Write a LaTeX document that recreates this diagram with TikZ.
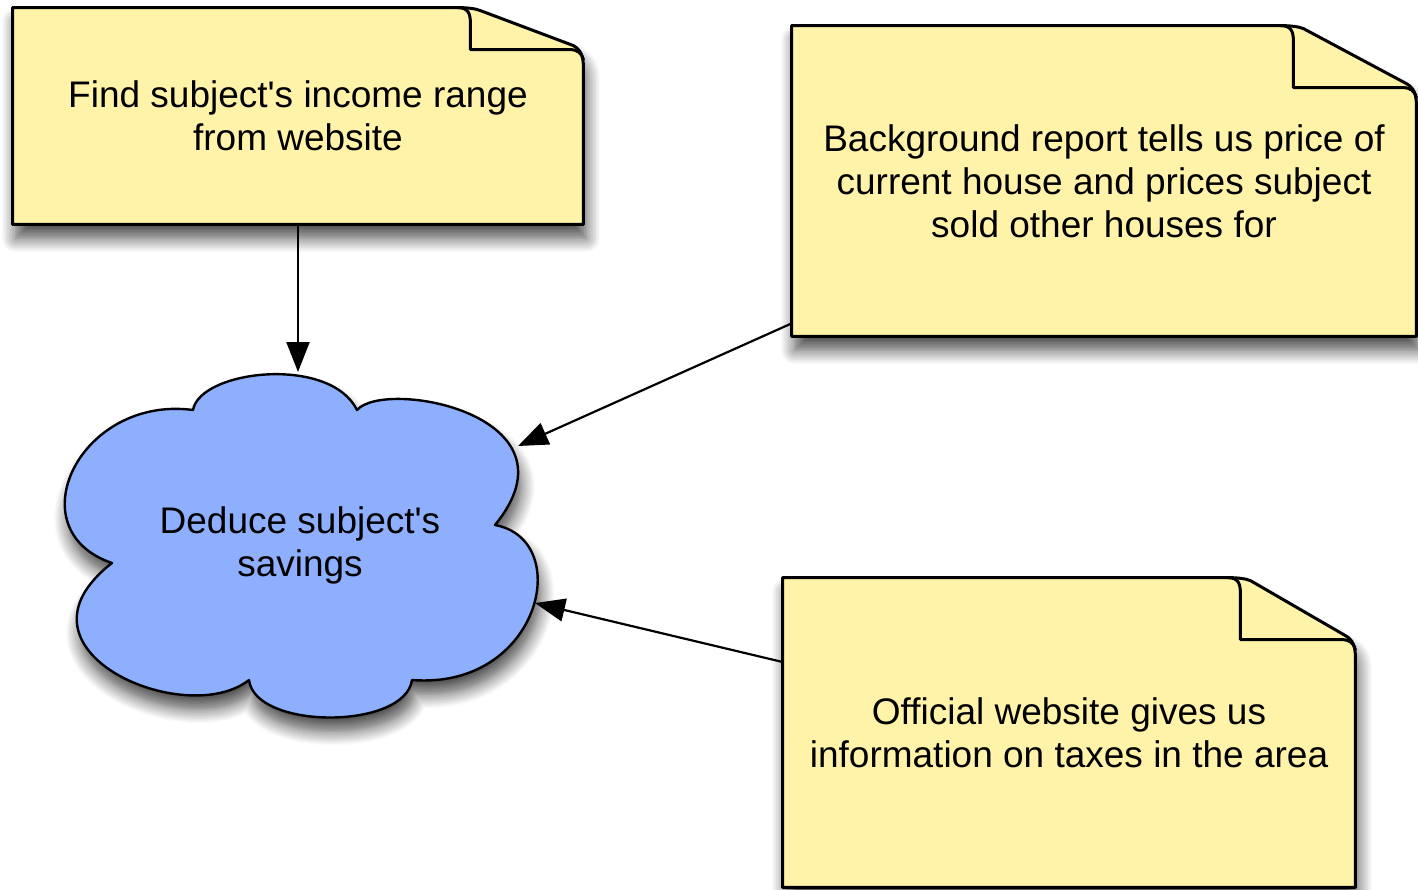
\documentclass[tikz,border=0pt]{standalone}
\usepackage{fontspec}
\setmainfont{Liberation Sans}
\usetikzlibrary{shadows.blur,calc,arrows.meta,backgrounds}
\definecolor{notefill}{RGB}{255,243,170}
\definecolor{cloudfill}{RGB}{142,174,254}
\tikzset{
 softshadow/.style={blur shadow={shadow xshift=1.5pt, shadow yshift=-7pt, shadow blur radius=7pt, shadow blur steps=10, shadow opacity=70}},
 notebody/.style={fill=notefill, draw=black, line width=1.5pt, line join=round, softshadow},
 notefold/.style={draw=black, line width=1.5pt, line join=round, line cap=round},
 cloudbody/.style={fill=cloudfill, draw=black, line width=1.2pt, line join=round, softshadow},
 notetext/.style={align=center, font=\fontsize{18.5}{21.5}\selectfont, inner sep=0pt},
 arr/.style={line width=1.1pt, -{Triangle[length=15pt,width=11.5pt]}},
}
\newcommand\notedraw[3]{%
 \path[notebody] (#1.north west) -- ($(#1.north east)+(-#2-13,0)$)
   .. controls ($(#1.north east)+(-#2-3,0)$) and ($(#1.north east)+(-#2+5,1)$) .. ($(#1.north east)+(-#2+10,3)$)
   -- ($(#1.north east)+(-10,#3-4)$)
   .. controls ($(#1.north east)+(-3,#3)$) and ($(#1.north east)+(0,#3+6)$) .. ($(#1.north east)+(0,#3+18)$)
   -- (#1.south east) -- (#1.south west) -- cycle;
 \draw[notefold] ($(#1.north east)+(-#2-13,0)$)
   .. controls ($(#1.north east)+(-#2-2,0)$) and ($(#1.north east)+(-#2,6)$) .. ($(#1.north east)+(-#2,16)$)
   -- ($(#1.north east)+(-#2,#3)$) -- ($(#1.north east)+(-14,#3)$)
   .. controls ($(#1.north east)+(-6,#3)$) and ($(#1.north east)+(-2,#3+3)$) .. ($(#1.north east)+(0,#3+10)$);
}
\begin{document}
\begin{tikzpicture}[x=0.5pt,y=-0.5pt]
\useasboundingbox (0,0) rectangle (1418,889);
\node[notetext, minimum width=285pt, minimum height=108pt] (n1) at (298,116)
  {Find subject\textquotesingle s income range\\from website};
\node[notetext, minimum width=312pt, minimum height=155pt] (n2) at (1104,181)
  {Background report tells us price of\\current house and prices subject\\sold other houses for};
\node[notetext, minimum width=286pt, minimum height=154.5pt] (n3) at (1069,732.5)
  {Official website gives us\\information on taxes in the area};
\node[notetext] (cloud) at (300,545) {Deduce subject\textquotesingle s\\savings};
\begin{scope}[on background layer]
 \notedraw{n1}{113}{42}
 \notedraw{n2}{123}{62}
 \notedraw{n3}{115}{62}
 \path[cloudbody] (193,410) .. controls (200,370) and (330,355) .. (357,410)
   .. controls (385,378) and (585,415) .. (495,525)
   .. controls (575,540) and (540,690) .. (412,680)
   .. controls (405,730) and (255,730) .. (249,680)
   .. controls (185,730) and (0,650) .. (112,563)
   .. controls (15,530) and (80,395) .. (193,410) -- cycle;
\end{scope}
\coordinate (cA) at (298,372);
\coordinate (cB) at (518,446);
\coordinate (cC) at (535,603);
\coordinate (s2) at ($(n2.south west)+(0,-13)$);
\coordinate (s3) at (n3.west |- 0,662);
\draw[arr] (n1.south) -- (cA);
\draw[arr] (s2) -- (cB);
\draw[arr] (s3) -- (cC);
\end{tikzpicture}
\end{document}
